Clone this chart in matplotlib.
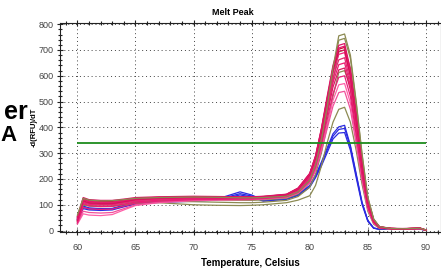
import matplotlib.pyplot as plt
from matplotlib.ticker import MultipleLocator

plt.rcParams['font.family'] = ['Liberation Sans', 'DejaVu Sans']

# temperature steps (Celsius)
temps = [60, 60.5, 61, 62, 63, 64, 65, 67, 70, 72, 74, 75, 76, 78, 79, 80,
         80.5, 81, 81.5, 82, 82.5, 83, 83.5, 84, 84.5, 85, 85.5, 86, 87, 88, 89.5, 90]

# -d(RFU)/dT
blue_1 = [50, 95, 88, 85, 86, 98, 108, 113, 118, 122, 150, 138, 118, 125, 140, 175,
          215, 265, 320, 375, 402, 408, 330, 220, 110, 40, 10, 5, 5, 5, 6, 1]
blue_2 = [45, 90, 84, 82, 84, 96, 106, 111, 116, 120, 143, 134, 116, 123, 138, 172,
          210, 258, 312, 366, 392, 396, 325, 215, 108, 38, 10, 5, 5, 5, 6, 1]
blue_3 = [42, 85, 80, 78, 80, 92, 103, 109, 114, 118, 138, 130, 114, 121, 136, 168,
          205, 250, 302, 355, 378, 380, 312, 205, 102, 36, 9, 5, 5, 5, 6, 1]

olive_1 = [60, 125, 118, 115, 116, 120, 125, 128, 130, 129, 127, 127, 128, 133, 150, 195,
           255, 350, 480, 630, 755, 762, 680, 500, 300, 130, 45, 15, 8, 7, 9, 2]
olive_2 = [55, 112, 106, 104, 105, 112, 118, 122, 124, 123, 122, 122, 124, 130, 148, 192,
           250, 345, 470, 615, 738, 745, 668, 492, 295, 128, 45, 15, 8, 7, 9, 2]
olive_3 = [40, 108, 102, 100, 101, 107, 113, 117, 119, 118, 117, 117, 119, 125, 142, 185,
           240, 330, 450, 580, 693, 700, 630, 465, 280, 122, 43, 14, 8, 7, 9, 2]
olive_4 = [35, 102, 97, 95, 96, 103, 110, 113, 112, 110, 108, 108, 110, 117, 132, 168,
           218, 300, 405, 520, 613, 620, 560, 415, 250, 110, 38, 13, 7, 6, 8, 1]
olive_5 = [30, 100, 95, 93, 94, 100, 105, 108, 100, 98, 97, 98, 100, 108, 118, 135,
           175, 250, 340, 420, 470, 478, 420, 310, 180, 75, 25, 8, 6, 5, 7, 1]

pink_1 = [55, 128, 120, 117, 117, 122, 128, 131, 133, 132, 131, 131, 133, 141, 165, 222,
          290, 395, 520, 640, 718, 725, 625, 450, 262, 118, 42, 15, 9, 8, 10, 2]
pink_2 = [45, 120, 113, 110, 110, 116, 123, 127, 130, 129, 129, 129, 131, 140, 163, 220,
          288, 392, 512, 632, 708, 715, 615, 440, 255, 112, 40, 14, 8, 7, 9, 2]
pink_3 = [40, 115, 108, 105, 105, 112, 120, 125, 128, 127, 128, 128, 130, 138, 160, 215,
          280, 380, 500, 620, 695, 700, 600, 430, 250, 110, 40, 14, 8, 7, 9, 2]
pink_4 = [38, 110, 102, 99, 100, 108, 116, 122, 126, 126, 126, 127, 129, 137, 158, 212,
          276, 375, 492, 610, 683, 690, 595, 425, 245, 105, 38, 13, 8, 7, 9, 2]
pink_5 = [50, 118, 111, 108, 108, 114, 121, 125, 128, 128, 127, 127, 129, 136, 156, 208,
          270, 366, 478, 592, 662, 670, 578, 412, 238, 102, 36, 13, 8, 7, 9, 2]
pink_6 = [35, 105, 96, 93, 94, 102, 111, 118, 123, 124, 124, 125, 127, 134, 153, 202,
          262, 355, 463, 574, 643, 650, 562, 400, 232, 98, 34, 12, 7, 7, 8, 2]
pink_7 = [42, 112, 105, 102, 102, 109, 117, 122, 126, 126, 126, 126, 128, 135, 153, 200,
          256, 345, 450, 556, 623, 630, 545, 388, 225, 95, 33, 12, 7, 6, 8, 2]
pink_8 = [30, 90, 84, 82, 83, 95, 106, 114, 120, 121, 122, 122, 124, 131, 148, 192,
          245, 330, 430, 530, 594, 600, 520, 370, 215, 90, 32, 11, 7, 6, 8, 1]
pink_9 = [25, 65, 60, 58, 62, 80, 97, 108, 116, 118, 119, 120, 122, 128, 145, 186,
          236, 318, 412, 505, 565, 570, 495, 352, 205, 86, 30, 11, 6, 6, 8, 1]
pink_10 = [28, 75, 70, 68, 70, 85, 100, 110, 118, 120, 121, 121, 123, 130, 146, 185,
           232, 308, 395, 482, 535, 540, 470, 335, 195, 82, 29, 10, 6, 6, 7, 1]
pink_11 = [48, 124, 116, 113, 113, 118, 125, 129, 131, 130, 130, 130, 132, 140, 164, 220,
           287, 390, 510, 628, 703, 710, 612, 438, 255, 113, 40, 14, 8, 7, 9, 2]

threshold = 338

blues = [blue_1, blue_2, blue_3]
olives = [olive_5, olive_4, olive_3, olive_2]
pinks = [pink_9, pink_10, pink_8, pink_7, pink_6, pink_5, pink_4, pink_3, pink_11, pink_2, pink_1]
pink_colors = ['#FF5FA8', '#F0509A', '#E8207A', '#D81B60', '#EC1C72', '#E0286E',
               '#F0207A', '#D4145A', '#C8102E', '#E6176F', '#DC1464']

fig = plt.figure(figsize=(4.41, 2.76), dpi=100)
ax = fig.add_axes([0.136, 0.159, 0.864, 0.758])

for ys in blues:
    ax.plot(temps, ys, color='#2A2AE0', lw=0.9)
for ys in olives:
    ax.plot(temps, ys, color='#8C8A52', lw=0.9)
for ys, c in zip(pinks, pink_colors):
    ax.plot(temps, ys, color=c, lw=0.9)
ax.plot(temps, olive_1, color='#8C8A52', lw=0.9)

ax.hlines(threshold, 60, 90, color='#1E8C1E', lw=1.3)

ax.set_xlim(58.5, 91.3)
ax.set_ylim(-6, 805)
ax.xaxis.set_major_locator(MultipleLocator(5))
ax.xaxis.set_minor_locator(MultipleLocator(1))
ax.yaxis.set_major_locator(MultipleLocator(100))
ax.yaxis.set_minor_locator(MultipleLocator(20))
ax.tick_params(which='both', direction='inout', top=True, color='#222', width=0.8)
ax.tick_params(which='major', length=5, labelsize=6.5, labelcolor='#444', pad=2)
ax.tick_params(which='minor', length=3)
ax.tick_params(axis='x', pad=5)
ax.grid(True, which='major', color='#444', linestyle=(0, (1, 3)), lw=0.7)
for s in ax.spines.values():
    s.set_color('#222')
    s.set_linewidth(0.8)

ax.set_title('Melt Peak', fontsize=6.5, fontweight='bold', pad=6)
ax.title.set_x((233 - 60) / 381)
ax.set_xlabel('Temperature, Celsius', fontsize=7, fontweight='bold', labelpad=5)
ax.set_ylabel('-d(RFU)/dT', fontsize=5.5, fontweight='bold', labelpad=1)

fig.text(28 / 441, 1 - 119 / 276, 'er', fontsize=18, fontweight='bold', ha='right', va='baseline')
fig.text(0.5 / 441, 1 - 141 / 276, 'A', fontsize=16, fontweight='bold', ha='left', va='baseline')

fig.savefig('out.png', dpi=100)
